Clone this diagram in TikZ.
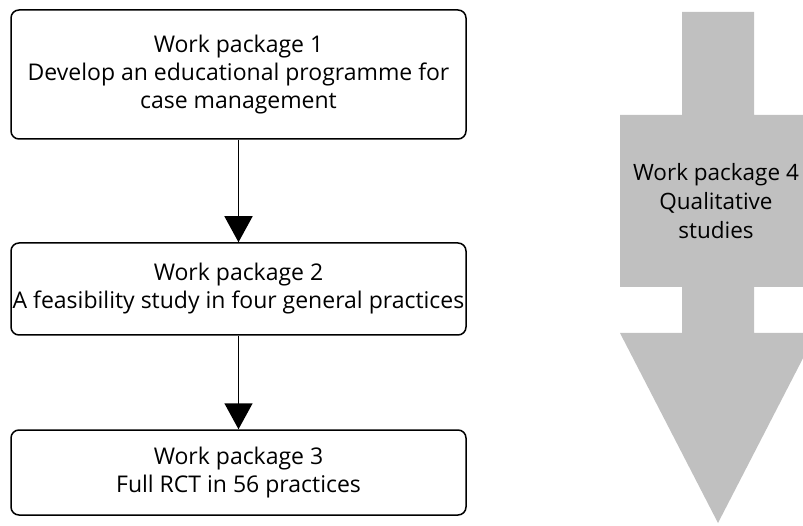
\documentclass[tikz,border=0pt]{standalone}
\usepackage{fontspec}
\setmainfont{Open Sans}
\usetikzlibrary{arrows.meta}
\definecolor{wpgrey}{RGB}{192,192,192}
\tikzset{
  wpbox/.style={draw=black, line width=1.5pt, rounded corners=8pt, align=center,
    minimum width=455pt, inner sep=0pt, font=\fontsize{23}{28}\selectfont},
  flow/.style={line width=1.5pt, -{Triangle[width=28pt,length=26pt]}},
  wptext/.style={align=center, inner sep=0pt, font=\fontsize{22.5}{29}\selectfont}
}
\begin{document}
\begin{tikzpicture}[x=1pt,y=1pt]
\useasboundingbox (0,0) rectangle (803,-526);
\clip (0,0) rectangle (803,-526);
\node[wpbox, minimum height=129pt] (b1) at (238.5,-74.5)
  {Work package 1\\Develop an educational programme for\\case management};
\node[wpbox, minimum height=92pt] (b2) at (238.5,-289)
  {Work package 2\\A feasibility study in four general practices};
\node[wpbox, minimum height=85pt] (b3) at (238.5,-472.5)
  {Work package 3\\Full RCT in 56 practices};
\draw[flow] (b1.south) -- (b2.north);
\draw[flow] (b2.south) -- (b3.north);
\fill[wpgrey] (682,-12) -- (754,-12) -- (754,-115) -- (816,-115) -- (816,-287)
  -- (754,-287) -- (754,-333) -- (816,-333) -- (718,-523) -- (620,-333)
  -- (682,-333) -- (682,-287) -- (620,-287) -- (620,-115) -- (682,-115) -- cycle;
\node[wptext] (wp4) at (716,-201) {Work package 4\\Qualitative\\studies};
\end{tikzpicture}
\end{document}
